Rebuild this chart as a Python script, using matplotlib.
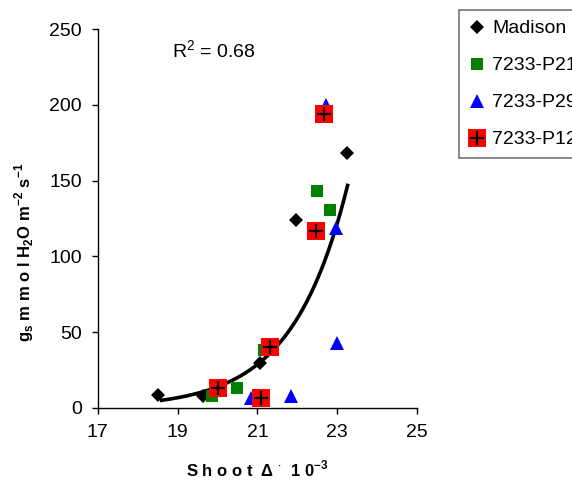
import numpy as np
import matplotlib
matplotlib.use("Agg")
import matplotlib.pyplot as plt

plt.rcParams['font.family'] = ['Liberation Sans', 'DejaVu Sans']
plt.rcParams['mathtext.fontset'] = 'custom'
plt.rcParams['mathtext.rm'] = 'Liberation Sans'
plt.rcParams['mathtext.bf'] = 'Liberation Sans:bold'

# data (shoot delta x 10^-3, gs)
madison_x = [18.52, 19.63, 21.06, 21.98, 23.24]
madison_y = [8.4, 8.0, 30.0, 124.0, 168.0]

p21_x = [19.85, 20.49, 21.16, 22.49, 22.82]
p21_y = [8.0, 13.0, 38.0, 143.0, 130.6]

p29_x = [20.85, 21.83, 23.00, 22.96, 22.71]
p29_y = [6.4, 8.0, 42.7, 118.5, 200.0]

p12_x = [20.02, 21.08, 21.31, 22.48, 22.68]
p12_y = [13.0, 6.8, 40.5, 117.0, 194.0]

# exponential trendline y = a * exp(b x), coefficients
fit_a = 30.0 * np.exp(-0.722 * 21.06)
fit_b = 0.722
fit_range = (18.6, 23.26)
r2_text = "R$^2$ = 0.68"

xticks = [17, 19, 21, 23, 25]
yticks = [0, 50, 100, 150, 200, 250]

fig = plt.figure(figsize=(5.72, 4.86), dpi=100)
ax = fig.add_axes([0.171, 0.1605, 0.558, 0.7795])

xf = np.linspace(fit_range[0], fit_range[1], 200)
ax.plot(xf, fit_a * np.exp(fit_b * xf), color='black', lw=2.6, zorder=2)

ax.plot(madison_x, madison_y, 'D', color='black', ms=6.9, mew=0,
        label='Madison', zorder=3)
ax.plot(p21_x, p21_y, 's', color='#008000', ms=8.4, mew=0,
        label='7233-P21', zorder=3)
ax.plot(p29_x, p29_y, '^', color='#0000ff', ms=9.4, mew=0,
        label='7233-P29', zorder=3)
ax.plot(p12_x, p12_y, 's', color='#ff0000', ms=13, mew=0, zorder=4)
ax.plot(p12_x, p12_y, '+', color='black', ms=9.5, mew=1.6, zorder=5)
# combined legend handle for red square with cross
h_red = ax.plot([], [], 's', color='#ff0000', ms=13, mew=0)[0]
h_plus = ax.plot([], [], '+', color='black', ms=9.5, mew=1.6)[0]

ax.set_xlim(17, 25)
ax.set_ylim(0, 250)
ax.set_xticks(xticks)
ax.set_yticks(yticks)
ax.tick_params(direction='out', length=4.5, width=1, labelsize=14, pad=7)
ax.spines['top'].set_visible(False)
ax.spines['right'].set_visible(False)
ax.spines['left'].set_linewidth(1)
ax.spines['bottom'].set_linewidth(1)

ax.text(18.85, 236, r2_text, fontsize=14, va='center', ha='left')

ax.set_xlabel(r"S h o o t  $\mathbf{\Delta}$ $^{\cdot}$  1 0$^{\mathbf{-3}}$",
              fontsize=12, fontweight='bold')
ax.xaxis.set_label_coords(0.5, -0.135)
ax.set_ylabel(r"g$_\mathbf{s}$ m m o l H$_\mathbf{2}$O m$^{\mathbf{-2}}$ s$^{\mathbf{-1}}$",
              fontsize=12, fontweight='bold')
ax.yaxis.set_label_coords(-0.195, 0.41)

handles = ax.get_legend_handles_labels()[0] + [(h_red, h_plus)]
labels = ['Madison', '7233-P21', '7233-P29', '7233-P12']
leg = fig.legend(handles, labels, loc='upper left',
                 bbox_to_anchor=(459 / 572, 1 - 10 / 486),
                 fontsize=14, frameon=True, fancybox=False,
                 edgecolor='#555555', handlelength=0.9, handletextpad=0.3,
                 labelspacing=1.0, borderpad=0.5, borderaxespad=0)
leg.get_frame().set_linewidth(1.2)

fig.savefig('out.png', dpi=100)
